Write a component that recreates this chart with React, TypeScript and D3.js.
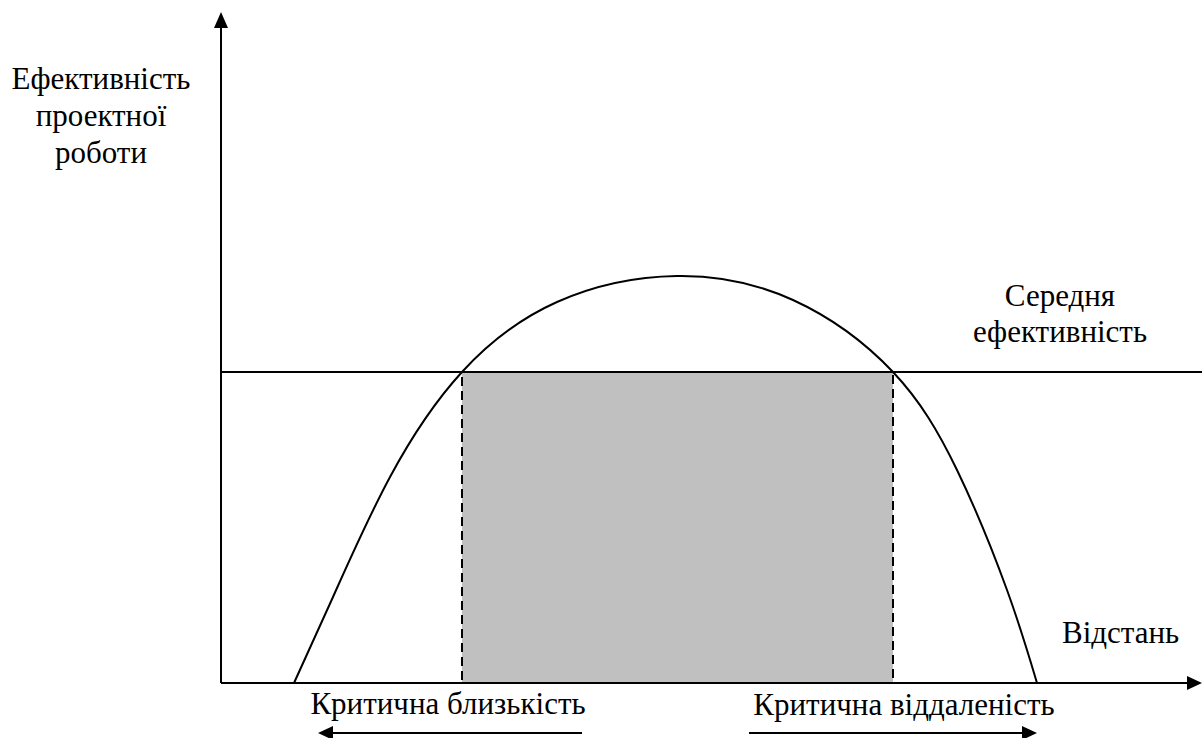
import React from "react";
import * as d3 from "d3";

// effectiveness curve (distance, effectiveness)
const curveDist = [7.3, 11.2, 16.9, 24.1, 33.6, 45.6, 57.2, 67.2, 73.6, 78.6, 81.6];
const curveEff = [0, 8.6, 20.6, 31.1, 38.1, 40.7, 38.3, 31.1, 21.3, 9.3, 0];

const avgEffectiveness = 31.1;
const criticalBounds = [24.1, 67.2];
const axisMax = { x: 98.1, y: 67.1 };

const yTitle = ["Ефективність", "проектної", "роботи"];
const avgLabel = ["Середня", "ефективність"];
const xTitle = "Відстань";
const nearLabel = "Критична близькість";
const farLabel = "Критична віддаленість";

const W = 1202;
const H = 738;
const FONT = '"Liberation Serif", "Times New Roman", serif';

export default function App() {
  const x = d3.scaleLinear().domain([0, axisMax.x]).range([221, 1202]);
  const y = d3.scaleLinear().domain([0, axisMax.y]).range([683, 12]);

  const pts: [number, number][] = curveDist.map((d, i) => [d, curveEff[i]]);
  const line = d3
    .line<[number, number]>()
    .x((d) => x(d[0]))
    .y((d) => y(d[1]))
    .curve(d3.curveNatural);

  const x0 = x(0);
  const y0 = y(0);
  const yAvg = y(avgEffectiveness);
  const cL = x(criticalBounds[0]);
  const cR = x(criticalBounds[1]);
  const arrowY = 733;

  return (
    <svg
      width={W}
      height={H}
      style={{ position: "absolute", left: 0, top: 0, background: "#fff", fontFamily: FONT, fontSize: 31 }}
    >
      {/* shaded zone between the critical bounds */}
      <rect
        x={cL}
        y={yAvg}
        width={cR - cL}
        height={y0 - yAvg}
        fill="#c0c0c0"
        stroke="#000"
        strokeWidth={2}
        strokeDasharray="9 5"
      />

      {/* average line */}
      <line x1={x0} x2={W} y1={yAvg} y2={yAvg} stroke="#000" strokeWidth={2} />

      {/* curve */}
      <path d={line(pts) || ""} fill="none" stroke="#000" strokeWidth={2} />

      {/* axes */}
      <line x1={x0} x2={x0} y1={y0} y2={y(axisMax.y) + 14} stroke="#000" strokeWidth={2} />
      <path
        d={`M${x0},${y(axisMax.y)} L${x0 - 7},${y(axisMax.y) + 16} L${x0 + 7},${y(axisMax.y) + 16} Z`}
        fill="#000"
      />
      <line x1={x0} x2={x(axisMax.x) - 12} y1={y0} y2={y0} stroke="#000" strokeWidth={2} />
      <path
        d={`M${x(axisMax.x)},${y0} L${x(axisMax.x) - 15},${y0 - 7} L${x(axisMax.x) - 15},${y0 + 7} Z`}
        fill="#000"
      />

      {/* y title */}
      {yTitle.map((t, i) => (
        <text key={t} x={101} y={89 + i * 37} textAnchor="middle">
          {t}
        </text>
      ))}

      {/* average label */}
      {avgLabel.map((t, i) => (
        <text key={t} x={1060} y={306 + i * 36} textAnchor="middle">
          {t}
        </text>
      ))}

      <text x={1062} y={643}>
        {xTitle}
      </text>

      <text x={448} y={714} textAnchor="middle">
        {nearLabel}
      </text>
      <text x={904} y={715} textAnchor="middle">
        {farLabel}
      </text>

      {/* direction arrows */}
      <line x1={582} x2={330} y1={arrowY} y2={arrowY} stroke="#000" strokeWidth={2} />
      <path d={`M318,${arrowY} L333,${arrowY - 7} L333,${arrowY + 7} Z`} fill="#000" />
      <line x1={749} x2={1025} y1={arrowY} y2={arrowY} stroke="#000" strokeWidth={2} />
      <path d={`M1037,${arrowY} L1022,${arrowY - 7} L1022,${arrowY + 7} Z`} fill="#000" />
    </svg>
  );
}
